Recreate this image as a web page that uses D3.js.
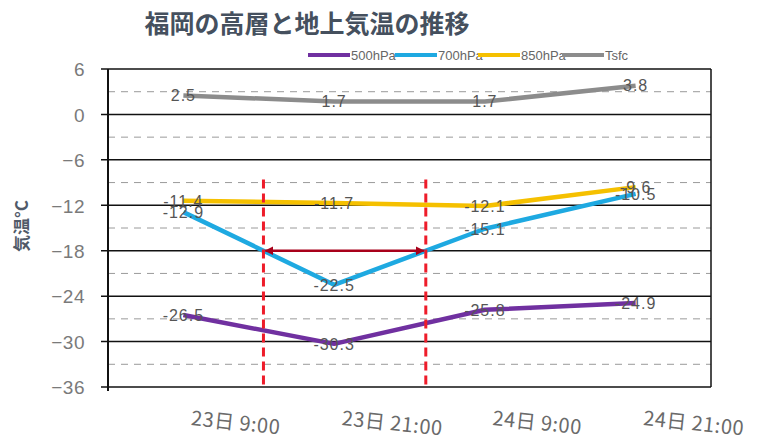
<!DOCTYPE html>
<html lang="ja">
<head>
<meta charset="UTF-8">
<title>福岡の高層と地上気温の推移</title>
<script src="https://d3js.org/d3.v7.min.js"></script>
<style>
  body { margin: 0; background: #fff; }
  svg { display: block; }
</style>
</head>
<body>
<svg></svg>
<script>
var categories = ["23日 9:00", "23日 21:00", "24日 9:00", "24日 21:00"];
var seriesNames = ["500hPa", "700hPa", "850hPa", "Tsfc"];
var t500 = [-26.5, -30.3, -25.8, -24.9];
var t700 = [-12.9, -22.5, -15.1, -10.5];
var t850 = [-11.4, -11.7, -12.1, -9.6];
var tsfc = [2.5, 1.7, 1.7, 3.8];
var yTicks = [6, 0, -6, -12, -18, -24, -30, -36];
var yMinor = [3, -3, -9, -15, -21, -27, -33];
var markLevel = -18;   // 700hPa が -18℃ を横切る時刻の注記

var colors = ["#7030a0", "#1ea9e1", "#f5c000", "#8c8c8c"];
var allSeries = [t500, t700, t850, tsfc];

var width = 767, height = 441;
var margin = {left: 108, right: 56, top: 69, bottom: 54};

var svg = d3.select("svg")
    .attr("width", width)
    .attr("height", height);

var x = d3.scalePoint()
    .domain(categories)
    .range([margin.left, width - margin.right])
    .padding(0.5);

var y = d3.scaleLinear()
    .domain([-36, 6])
    .range([height - margin.bottom, margin.top]);

// title
svg.append("text")
    .attr("x", 307)
    .attr("y", 33)
    .attr("text-anchor", "middle")
    .style("font-family", "'Noto Sans CJK JP', sans-serif")
    .style("font-weight", "bold")
    .style("font-size", "25px")
    .style("fill", "#45505e")
    .text("福岡の高層と地上気温の推移");

// legend
var legendX = [308, 395, 478, 562];
var legend = svg.append("g");
seriesNames.forEach(function (name, i) {
    legend.append("line")
        .attr("x1", legendX[i]).attr("x2", legendX[i] + 42)
        .attr("y1", 55).attr("y2", 55)
        .style("stroke", colors[i])
        .style("stroke-width", 4);
    legend.append("text")
        .attr("x", legendX[i] + 43)
        .attr("y", 60)
        .style("font-family", "'Liberation Sans', sans-serif")
        .style("font-size", "13px")
        .style("fill", "#666")
        .text(name);
});

// minor dashed grid
svg.append("g").selectAll("line")
    .data(yMinor)
    .enter()
    .append("line")
    .attr("x1", margin.left).attr("x2", width - margin.right)
    .attr("y1", function (d) { return y(d); })
    .attr("y2", function (d) { return y(d); })
    .style("stroke", "#9a9a9a")
    .style("stroke-width", 1)
    .style("stroke-dasharray", "7,6");

// major grid
svg.append("g").selectAll("line")
    .data(yTicks)
    .enter()
    .append("line")
    .attr("x1", margin.left - 7).attr("x2", width - margin.right)
    .attr("y1", function (d) { return y(d); })
    .attr("y2", function (d) { return y(d); })
    .style("stroke", "#111")
    .style("stroke-width", 1.5);

// plot frame sides
svg.append("line")
    .attr("x1", margin.left).attr("x2", margin.left)
    .attr("y1", y(6)).attr("y2", y(-36) + 4)
    .style("stroke", "#111").style("stroke-width", 2);
svg.append("line")
    .attr("x1", width - margin.right).attr("x2", width - margin.right)
    .attr("y1", y(6)).attr("y2", y(-36))
    .style("stroke", "#111").style("stroke-width", 1.5);

// y tick labels
var yAxis = d3.axisLeft(y).tickValues(yTicks).tickSize(0).tickPadding(23);
var yg = svg.append("g")
    .attr("transform", "translate(" + margin.left + ",0)")
    .call(yAxis);
yg.select(".domain").remove();
yg.selectAll("text")
    .attr("dy", "0.36em")
    .style("font-family", "'Liberation Sans', sans-serif")
    .style("font-size", "19px")
    .style("letter-spacing", "0.5px")
    .style("fill", "#7a7a7a");

// y title
svg.append("text")
    .attr("transform", "translate(28,226) rotate(-90)")
    .attr("text-anchor", "middle")
    .style("font-family", "'Noto Sans CJK JP', sans-serif")
    .style("font-weight", "bold")
    .style("font-size", "17px")
    .style("fill", "#505a68")
    .text("気温°C");

// x labels
svg.append("g").selectAll("text")
    .data(categories)
    .enter()
    .append("text")
    .attr("transform", function (d) {
        return "translate(" + (x(d) + 7) + ",425) rotate(6)";
    })
    .style("font-family", "'Noto Sans CJK JP', sans-serif")
    .style("font-size", "20px")
    .style("letter-spacing", "0.5px")
    .style("fill", "#6a6a6a")
    .text(function (d) { return d; });

// crossing points of 700hPa with markLevel
var crossX = [];
for (var i = 0; i < t700.length - 1; i++) {
    var a = t700[i], b = t700[i + 1];
    if ((a - markLevel) * (b - markLevel) < 0) {
        var f = (markLevel - a) / (b - a);
        var xa = x(categories[i]), xb = x(categories[i + 1]);
        crossX.push(xa + f * (xb - xa));
    }
}

// series lines
var line = d3.line()
    .x(function (d, i) { return x(categories[i]); })
    .y(function (d) { return y(d); });

allSeries.forEach(function (s, k) {
    svg.append("path")
        .datum(s)
        .attr("d", line)
        .style("fill", "none")
        .style("stroke", colors[k])
        .style("stroke-width", 4.5)
        .style("stroke-linejoin", "round");
});

// annotation: red dashed verticals and arrow
svg.append("defs").selectAll("marker")
    .data(["arrowEnd", "arrowStart"])
    .enter()
    .append("marker")
    .attr("id", function (d) { return d; })
    .attr("viewBox", "0 0 10 10")
    .attr("refX", 9).attr("refY", 5)
    .attr("markerWidth", 3.5).attr("markerHeight", 3.5)
    .attr("orient", function (d) { return d === "arrowEnd" ? "auto" : "auto-start-reverse"; })
    .append("path")
    .attr("d", "M0,0L10,5L0,10Z")
    .style("fill", "#a8001a");

svg.append("g").selectAll("line")
    .data(crossX)
    .enter()
    .append("line")
    .attr("x1", function (d) { return d; })
    .attr("x2", function (d) { return d; })
    .attr("y1", y(-8.6))
    .attr("y2", y(-36))
    .style("stroke", "#ee1c2a")
    .style("stroke-width", 3)
    .style("stroke-dasharray", "9,5");

if (crossX.length === 2) {
    svg.append("line")
        .attr("x1", crossX[0] + 2).attr("x2", crossX[1] - 2)
        .attr("y1", y(markLevel)).attr("y2", y(markLevel))
        .attr("marker-end", "url(#arrowEnd)")
        .attr("marker-start", "url(#arrowStart)")
        .style("stroke", "#a8001a")
        .style("stroke-width", 2.5);
}

// data labels
allSeries.forEach(function (s, k) {
    svg.append("g").selectAll("text")
        .data(s)
        .enter()
        .append("text")
        .attr("x", function (d, i) { return x(categories[i]); })
        .attr("y", function (d) { return y(d); })
        .attr("dy", "0.36em")
        .attr("text-anchor", "middle")
        .style("font-family", "'Liberation Sans', sans-serif")
        .style("font-size", "16px")
        .style("letter-spacing", "1px")
        .style("fill", "#555")
        .text(function (d) { return d.toFixed(1); });
});
</script>
</body>
</html>
